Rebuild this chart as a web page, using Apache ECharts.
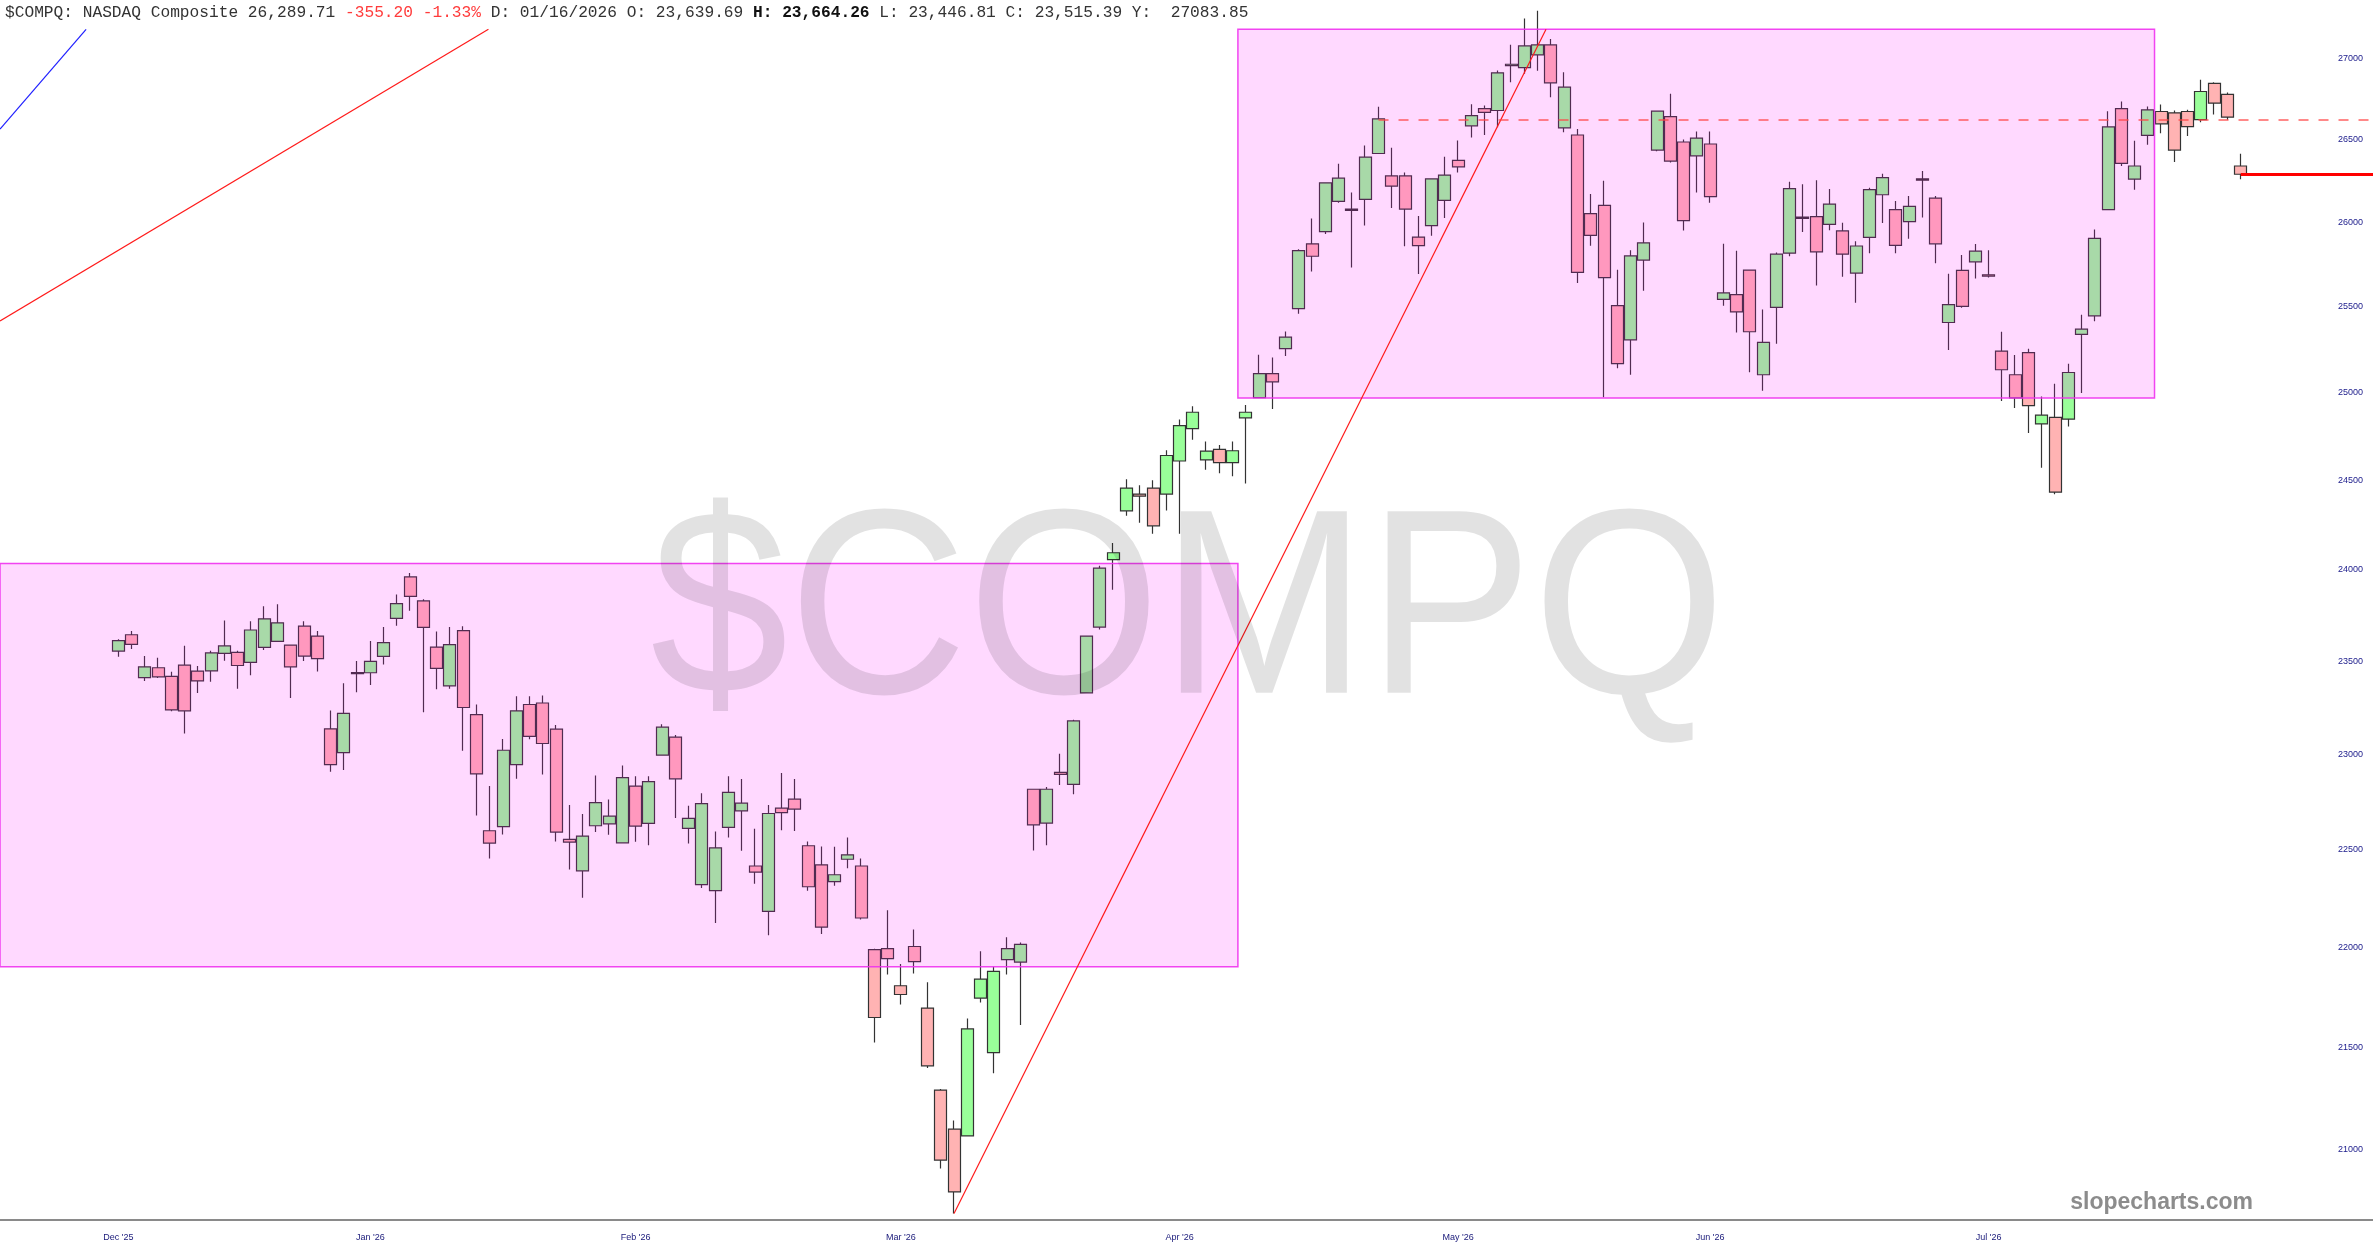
<!DOCTYPE html>
<html>
<head>
<meta charset="utf-8">
<script src="https://cdn.jsdelivr.net/npm/echarts@6/dist/echarts.min.js"></script>
<style>
html,body{margin:0;padding:0;background:#fff;}
#chart{width:2373px;height:1260px;}
</style>
</head>
<body>
<div id="chart"></div>
<script>
// ---- data ----
const opens = [23554,23643,23411,23464,23417,23478,23446,23447,23542,23547,23493,23574,23607,23587,23690,23636,23136,23009,23438,23437,23525,23732,23960,23828,23576,23366,23665,23212,22599,22620,22946,23266,23274,23134,22554,22391,22625,22635,22536,22833,22637,22996,23092,22611,22320,22289,22616,22703,22416,22183,22717,22764,22521,22422,22336,22451,22416,21988,21993,21806,22004,21694,21288,21097,21064,21744,21472,21938,21925,22816,22639,22905,22842,23328,23685,24056,24328,24422,24456,24422,24609,24793,24615,24675,24600,24855,24971,25109,25254,25488,25872,25945,26126,26080,26138,26416,26280,26280,25912,25981,26132,26374,26585,26690,26679,26957,26944,27023,27085,26572,26529,26053,26102,25506,25306,25775,26437,26642,26486,26402,26474,25543,25571,25716,25103,25496,25816,26032,26034,25988,25949,25698,25910,26166,26077,26004,26262,26146,25407,25714,25765,25688,25240,25103,25231,24820,24858,24847,25337,25446,26077,26690,26260,26527,26673,26665,26673,26623,26846,26778,26340];
const closes = [23611,23591,23469,23415,23237,23232,23393,23544,23582,23476,23669,23730,23708,23469,23527,23513,22946,23219,23432,23498,23600,23813,23853,23683,23460,23589,23250,22897,22535,23022,23232,23096,23058,22592,22540,22571,22746,22675,22877,22623,22856,23145,22871,22663,22741,22510,22800,22743,22384,22689,22693,22712,22309,22103,22371,22474,22149,21647,21943,21762,21927,21407,20947,20794,21590,21839,21878,21993,22015,22630,22816,22894,23178,23636,24009,24094,24456,24410,24244,24640,24810,24887,24665,24600,24667,24887,25109,25062,25322,25831,25798,26238,26266,26072,26394,26628,26218,26080,25861,26262,26285,26335,26648,26667,26912,26965,27079,27085,26850,26823,25702,25922,25671,25167,25800,25878,26675,26370,26010,26510,26155,25581,25469,25353,25291,25810,26203,26024,25824,26110,25810,25859,26197,26270,25863,26096,26254,25872,25512,25502,25828,25680,25132,24970,24925,24870,24433,25116,25368,25904,26578,26356,26340,26683,26597,26437,26580,26796,26724,26638,26290];
const lows = [23524,23565,23393,23409,23230,23111,23328,23388,23502,23350,23424,23560,23607,23301,23500,23444,22908,22918,23332,23371,23482,23692,23774,23225,23348,23351,23019,22679,22455,22580,22871,23080,22894,22543,22398,22253,22592,22578,22536,22542,22524,22996,22665,22533,22303,22124,22564,22495,22325,22061,22602,22597,22289,22068,22314,22405,22141,21522,21863,21712,21867,21396,20907,20691,21064,21722,21371,21863,21610,22496,22524,22839,22790,23328,23672,23890,24300,24261,24200,24330,24200,24730,24560,24540,24523,24482,24971,24906,25211,25458,25708,25931,26118,25731,25981,26416,26087,25857,25692,25920,26026,26300,26514,26529,26576,26854,26906,26924,26761,26545,25639,25861,24973,25141,25103,25594,26429,26362,25951,26179,26118,25506,25349,25118,25010,25283,25798,25943,25624,25953,25676,25523,25816,25996,25816,25902,26030,25757,25246,25494,25666,25672,24952,24912,24768,24571,24421,24806,24998,25415,26077,26340,26197,26470,26539,26364,26523,26607,26654,26622,26260];
const highs = [23618,23663,23527,23518,23442,23583,23473,23556,23721,23556,23717,23799,23810,23587,23717,23663,23234,23380,23500,23609,23685,23864,23982,23837,23661,23685,23690,23266,22833,23082,23310,23310,23315,23156,22734,22686,22889,22762,22941,22885,22885,23161,23103,22729,22795,22595,22885,22870,22609,22733,22901,22870,22543,22517,22516,22564,22455,21993,22189,21915,22090,21823,21293,21139,21642,21980,21902,22051,22024,22816,22828,23004,23185,23636,24022,24148,24506,24472,24500,24670,24845,24922,24720,24700,24720,24929,25219,25203,25355,25839,26024,26238,26354,26179,26465,26702,26451,26300,26038,26262,26396,26496,26718,26710,26926,27087,27250,27300,27122,26915,26566,26171,26250,25718,25834,26000,26675,26782,26502,26551,26551,25872,25831,25716,25483,25820,26244,26229,26254,26201,25998,25887,26209,26293,26128,26159,26309,26159,25694,25806,25871,25834,25353,25217,25254,24977,25051,25167,25453,25957,26675,26735,26494,26704,26716,26679,26683,26869,26854,26790,26415];

const xTickIdx = [0, 19, 39, 59, 80, 101, 120, 141];
const xTickLabels = ["Dec '25", "Jan '26", "Feb '26", "Mar '26", "Apr '26", "May '26", "Jun '26", "Jul '26"];
const yTicks = [21000, 21500, 22000, 22500, 23000, 23500, 24000, 24500, 25000, 25500, 26000, 26500, 27000];

// axis ranges (bar index units / price)
const xRange = [-8.92, 169.97];
const yRange = [20660, 27183];

// shaded zones: [xFrom, xTo, priceLow, priceHigh]
const zoneLow = [-8.92, 84.4, 21902, 24035];
const zoneHigh = [84.4, 153.5, 24969, 27183];

// lines: [x1, price1, x2, price2]
const blueTrend = [-8.92, 26565, -2.43, 27183];
const redTrendA = [-8.92, 25416, 27.9, 27183];
const redTrendB = [63, 20691, 107.63, 27183];
const dashLevel = [95, 26623, 169.97, 26623];
const lastLevel = [160, 26289.71, 169.97, 26289.71];

// ---- build ----
const candles = opens.map((o, i) => [i, o, closes[i], lows[i], highs[i]]);
const labelMap = {};
xTickIdx.forEach((v, k) => { labelMap[v] = xTickLabels[k]; });

function seg(a, style) {
  return [{coord: [a[0], a[1]], lineStyle: style}, {coord: [a[2], a[3]]}];
}

const chart = echarts.init(document.getElementById('chart'), null, {renderer: 'canvas'});
chart.setOption({
  animation: false,
  backgroundColor: '#ffffff',
  grid: {left: 0, right: 0, top: 29.3, bottom: 40, containLabel: false},
  xAxis: {
    type: 'value',
    min: xRange[0], max: xRange[1],
    axisLine: {show: true, lineStyle: {color: '#8a8a8a', width: 2}},
    axisTick: {show: false},
    splitLine: {show: false},
    axisLabel: {
      customValues: xTickIdx,
      formatter: v => labelMap[Math.round(v)] || '',
      color: '#1a1a7a', fontSize: 9, fontFamily: 'Liberation Sans', margin: 13
    }
  },
  yAxis: {
    type: 'log', logBase: 10,
    min: yRange[0], max: yRange[1],
    position: 'right',
    axisLine: {show: false},
    axisTick: {show: false},
    splitLine: {show: false},
    axisLabel: {
      inside: true,
      customValues: yTicks,
      formatter: v => String(Math.round(v)),
      color: '#1a1a8a', fontSize: 9, fontFamily: 'Liberation Sans', margin: 10
    }
  },
  series: [{
    type: 'candlestick',
    data: candles,
    encode: {x: 0, y: [1, 2, 3, 4]},
    barWidth: 12.5,
    clip: true,
    z: 2,
    itemStyle: {
      color: '#99ff99', color0: '#ffb3b3',
      borderColor: '#333333', borderColor0: '#333333', borderColorDoji: '#333333',
      borderWidth: 1.2
    },
    markArea: {
      silent: true,
      z: 8,
      itemStyle: {color: 'rgba(255,0,255,0.15)', borderColor: 'rgba(240,50,240,0.9)', borderWidth: 1.5},
      label: {show: false},
      data: [
        [{coord: [zoneLow[0], zoneLow[3]]}, {coord: [zoneLow[1], zoneLow[2]]}],
        [{coord: [zoneHigh[0], zoneHigh[3]]}, {coord: [zoneHigh[1], zoneHigh[2]]}]
      ]
    },
    markLine: {
      silent: true,
      z: 9,
      symbol: ['none', 'none'],
      label: {show: false},
      lineStyle: {type: 'solid'},
      data: [
        seg(blueTrend, {color: '#1f1fff', width: 1.2, type: 'solid'}),
        seg(redTrendA, {color: '#ff1a1a', width: 1.2, type: 'solid'}),
        seg(redTrendB, {color: '#ff1a1a', width: 1.2, type: 'solid'}),
        seg(dashLevel, {color: 'rgba(255,70,70,0.85)', width: 1.5, type: [10, 10]}),
        seg(lastLevel, {color: '#ff0000', width: 3, type: 'solid'})
      ]
    }
  }],
  graphic: [
    {
      type: 'text', x: 1188, y: 620, z: 100, scaleX: 0.94, silent: true,
      style: {
        text: '$COMPQ', fontSize: 264, fontFamily: 'Liberation Sans',
        fill: 'rgba(0,0,0,0.115)', align: 'center', verticalAlign: 'middle',
        textAlign: 'center', textVerticalAlign: 'middle'
      }
    },
    {
      type: 'text', x: 5, y: 13, z: 100, silent: true,
      style: {
        text: '{n|$COMPQ: NASDAQ Composite 26,289.71 }{r|-355.20 -1.33%}{n| D: 01/16/2026 O: 23,639.69 }{b|H: 23,664.26}{n| L: 23,446.81 C: 23,515.39 Y:  27083.85}',
        verticalAlign: 'middle', textVerticalAlign: 'middle',
        rich: {
          n: {fontFamily: 'Liberation Mono', fontSize: 16.2, fill: '#333333', color: '#333333'},
          r: {fontFamily: 'Liberation Mono', fontSize: 16.2, fill: '#ff3b3b', color: '#ff3b3b'},
          b: {fontFamily: 'Liberation Mono', fontSize: 16.2, fontWeight: 'bold', fill: '#111111', color: '#111111'}
        }
      }
    },
    {
      type: 'text', x: 2253, y: 1203, z: 100, silent: true,
      style: {
        text: 'slopecharts.com', fontSize: 23, fontWeight: 'bold', fontFamily: 'Liberation Sans',
        fill: '#8c8c8c', align: 'right', verticalAlign: 'middle',
        textAlign: 'right', textVerticalAlign: 'middle'
      }
    }
  ]
});
</script>
</body>
</html>
